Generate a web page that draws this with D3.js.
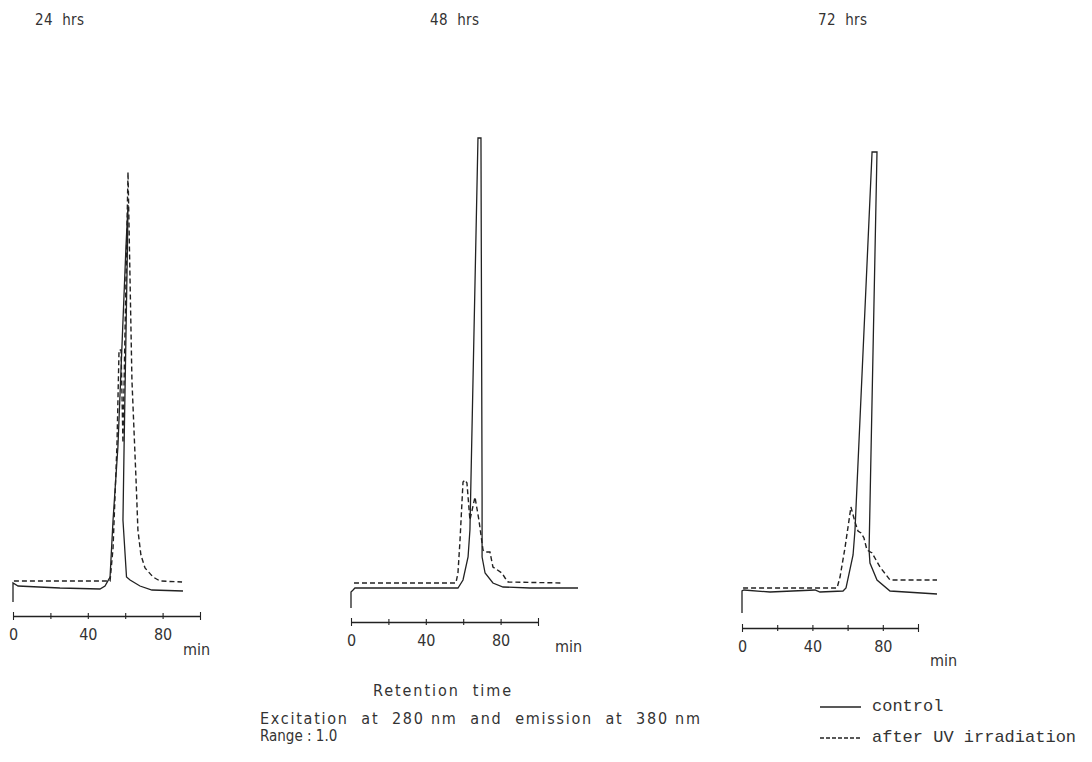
<!DOCTYPE html>
<html><head><meta charset="utf-8">
<script src="https://cdn.jsdelivr.net/npm/d3@7"></script>
<style>
html,body{margin:0;padding:0;background:#fff;}
svg text{font-family:"DejaVu Sans Condensed","DejaVu Sans",sans-serif;fill:#333;white-space:pre;}
.mono{font-family:"Liberation Mono","DejaVu Sans Mono",monospace;}
</style></head>
<body>
<svg id="c" width="1092" height="762"></svg>
<script>
// ---------- data (retention time in min, detector signal in arbitrary units) ----------
const panelTitles = ["24  hrs", "48  hrs", "72  hrs"];
const tickValues = [0, 20, 40, 60, 80, 100];
const tickLabels = ["0", "", "40", "", "80", ""];
const axisUnit = "min";

const ctl24T = [0, 0, 2.7, 25.1, 46.5, 49.2, 51.9, 53.5, 56.1, 60.4, 61.5, 61.2, 59.4, 58.8, 60.7, 62.6, 67.9, 74.3, 90.9];
const ctl24V = [14, 33, 30, 28, 27, 30, 39, 96, 169, 369, 411, 369, 169, 96, 39, 36, 30, 26, 25];
const uv24T = [0.5, 51.9, 53.5, 55.6, 56.7, 57.8, 58.8, 61.5, 63.6, 65.8, 66.8, 68.4, 70.6, 74.9, 78.6, 90.4];
const uv24V = [35, 35, 68, 171, 266, 266, 173, 444, 236, 136, 86, 61, 48, 39, 35, 34];

const ctl48T = [0, 0, 1.1, 2.1, 36.9, 57.2, 59.9, 62.6, 63.6, 67.9, 69.5, 70.1, 70.1, 71.7, 75.9, 81.3, 95.7, 121.4];
const ctl48V = [14, 30, 32, 34, 34, 34, 42, 65, 92, 484, 484, 125, 65, 49, 39, 35, 34, 34];
const uv48T = [1.6, 56.1, 57.2, 58.3, 59.9, 61.0, 62.0, 63.6, 66.3, 68.4, 70.6, 71.7, 74.3, 75.9, 80.7, 82.4, 84.0, 112.8];
const uv48V = [39, 39, 49, 82, 140, 142, 139, 102, 125, 102, 72, 70, 70, 55, 49, 44, 40, 39];

const ctl72T = [0, 0, 1.1, 15.9, 41.5, 44.3, 57.4, 59.1, 63.1, 64.2, 73.9, 76.7, 72.2, 72.7, 76.7, 84.1, 110.8];
const ctl72V = [15, 37, 38, 36, 38, 36, 37, 40, 73, 98, 476, 476, 78, 65, 48, 37, 34];
const uv72T = [0.6, 54.0, 55.7, 58.5, 61.9, 64.2, 65.9, 67.6, 69.3, 71.0, 73.9, 78.4, 84.1, 110.8];
const uv72V = [40, 40, 51, 80, 121, 106, 97, 95, 90, 78, 75, 61, 48, 48];

const legendLabels = ["control", "after UV irradiation"];
const xTitle = "Retention  time";
const noteLines = ["Excitation  at  280 nm  and  emission  at  380 nm", "Range : 1.0"];

// ---------- layout ----------
const svg = d3.select("#c");
const ink = "#222";
const zip = (t, v) => t.map((d, i) => ({t: d, v: v[i]}));
const panels = [
  {x0: 13, x1: 200, axisY: 616, title: [35, 25], unit: [183, 655], ctl: zip(ctl24T, ctl24V), uv: zip(uv24T, uv24V)},
  {x0: 351, x1: 538, axisY: 622, title: [430, 25], unit: [555, 652], ctl: zip(ctl48T, ctl48V), uv: zip(uv48T, uv48V)},
  {x0: 742, x1: 918, axisY: 628, title: [818, 25], unit: [930, 666], ctl: zip(ctl72T, ctl72V), uv: zip(uv72T, uv72V)}
];

panels.forEach((p, i) => {
  const x = d3.scaleLinear().domain([0, 100]).range([p.x0, p.x1]);
  const y = d3.scaleLinear().domain([0, 500]).range([p.axisY, p.axisY - 500]);
  const line = d3.line().x(d => x(d.t)).y(d => y(d.v));

  svg.append("text").attr("x", p.title[0]).attr("y", p.title[1])
    .attr("font-size", 15).attr("textLength", 49).attr("lengthAdjust", "spacing")
    .text(panelTitles[i]);

  svg.append("path").datum(p.uv).attr("d", line)
    .attr("fill", "none").attr("stroke", ink).attr("stroke-width", 1.4)
    .attr("stroke-dasharray", "5,3");
  svg.append("path").datum(p.ctl).attr("d", line)
    .attr("fill", "none").attr("stroke", ink).attr("stroke-width", 1.3);

  const ax = svg.append("g").attr("transform", `translate(0,${p.axisY})`)
    .call(d3.axisBottom(x).tickValues(tickValues).tickSizeOuter(0).tickSizeInner(6)
      .tickFormat((d, k) => tickLabels[k]));
  ax.select(".domain").attr("stroke", ink).attr("stroke-width", 1.3);
  ax.selectAll(".tick line").attr("stroke", ink).attr("stroke-width", 1.1)
    .attr("y1", (d) => (d === 0 || d === 100) ? -4 : -3)
    .attr("y2", (d) => (d === 0 || d === 100) ? 4 : 3);
  ax.selectAll(".tick text").attr("y", 13).attr("font-size", 16)
    .attr("fill", "#333").attr("font-family", '"DejaVu Sans Condensed","DejaVu Sans",sans-serif');

  svg.append("text").attr("x", p.unit[0]).attr("y", p.unit[1])
    .attr("font-size", 16).text(axisUnit);
});

svg.append("text").attr("x", 373).attr("y", 696).attr("font-size", 16)
  .attr("textLength", 138).attr("lengthAdjust", "spacing").text(xTitle);
svg.append("text").attr("x", 260).attr("y", 724).attr("font-size", 16)
  .attr("textLength", 440).attr("lengthAdjust", "spacing").text(noteLines[0]);
svg.append("text").attr("x", 260).attr("y", 741).attr("font-size", 15)
  .text(noteLines[1]);

// legend
const lg = [{y: 707, dash: null}, {y: 738, dash: "4,2"}];
lg.forEach((l, k) => {
  svg.append("line").attr("x1", 820).attr("x2", 861).attr("y1", l.y).attr("y2", l.y)
    .attr("stroke", ink).attr("stroke-width", 1.3).attr("stroke-dasharray", l.dash);
  svg.append("text").attr("class", "mono").attr("x", 872).attr("y", l.y + 4)
    .attr("font-size", 17).text(legendLabels[k]);
});
</script>
</body></html>
